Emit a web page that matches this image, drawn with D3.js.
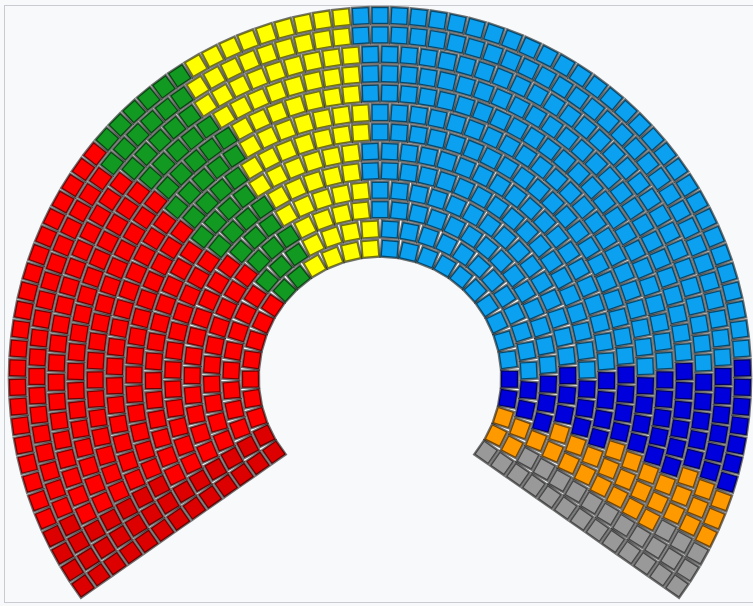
<!DOCTYPE html>
<html>
<head>
<meta charset="utf-8">
<script src="https://cdn.jsdelivr.net/npm/d3@7"></script>
<style>
  body { margin: 0; background: #f8f9fa; }
</style>
</head>
<body>
<svg id="chart" width="753" height="606"></svg>
<script>
// EP seat groups, left to right
const groups = ["GUE/NGL", "S&D", "Greens/EFA", "ALDE", "EPP", "ECR", "EFD", "NI"];
const seats = [35, 184, 55, 84, 265, 54, 32, 27];
const colors = ["#dd0000", "#ff0000", "#119922", "#ffff00", "#0ba0f0", "#0000dd", "#ff9900", "#999999"];

const svg = d3.select("#chart");
const width = +svg.attr("width");
const height = +svg.attr("height");

// thumbnail frame
svg.append("rect")
  .attr("x", 4.5).attr("y", 5.5)
  .attr("width", width + 10).attr("height", 597)
  .attr("fill", "#f8f9fa")
  .attr("stroke", "#c8ccd1");

const cx = 380, cy = 378;
const nRows = 13;
const side = 17;
const startAngle = 215, endAngle = -35; // degrees, math convention

const rScale = d3.scaleLinear()
  .domain([0, nRows - 1])
  .range([121 + side / 2, 371 - side / 2]);

// seats per row, proportional to radius (largest remainder)
const total = d3.sum(seats);
const radii = d3.range(nRows).map(rScale);
const rSum = d3.sum(radii);
const raw = radii.map(r => total * r / rSum);
const rowCounts = raw.map(Math.floor);
let left = total - d3.sum(rowCounts);
d3.range(nRows)
  .sort((a, b) => (raw[b] - rowCounts[b]) - (raw[a] - rowCounts[a]))
  .slice(0, left)
  .forEach(i => rowCounts[i] += 1);

// seat positions
let allSeats = [];
rowCounts.forEach((n, row) => {
  const aScale = d3.scaleLinear().domain([0, n - 1]).range([startAngle, endAngle]);
  d3.range(n).forEach(i => {
    allSeats.push({ row: row, angle: aScale(i), r: radii[row] });
  });
});

allSeats.sort((a, b) => (b.angle - a.angle) || (a.row - b.row));

const cumulative = d3.cumsum(seats);
allSeats.forEach((d, i) => {
  d.party = d3.bisectRight(cumulative, i);
});

const rad = Math.PI / 180;
svg.append("g")
  .selectAll("rect")
  .data(allSeats)
  .enter()
  .append("rect")
  .attr("x", -side / 2)
  .attr("y", -side / 2)
  .attr("width", side)
  .attr("height", side)
  .attr("transform", d => {
    const x = cx + d.r * Math.cos(d.angle * rad);
    const y = cy - d.r * Math.sin(d.angle * rad);
    return "translate(" + x + "," + y + ") rotate(" + (-d.angle) + ")";
  })
  .attr("fill", d => colors[d.party])
  .attr("stroke", "#000")
  .attr("stroke-opacity", 0.55)
  .attr("stroke-width", 2.4);
</script>
</body>
</html>
